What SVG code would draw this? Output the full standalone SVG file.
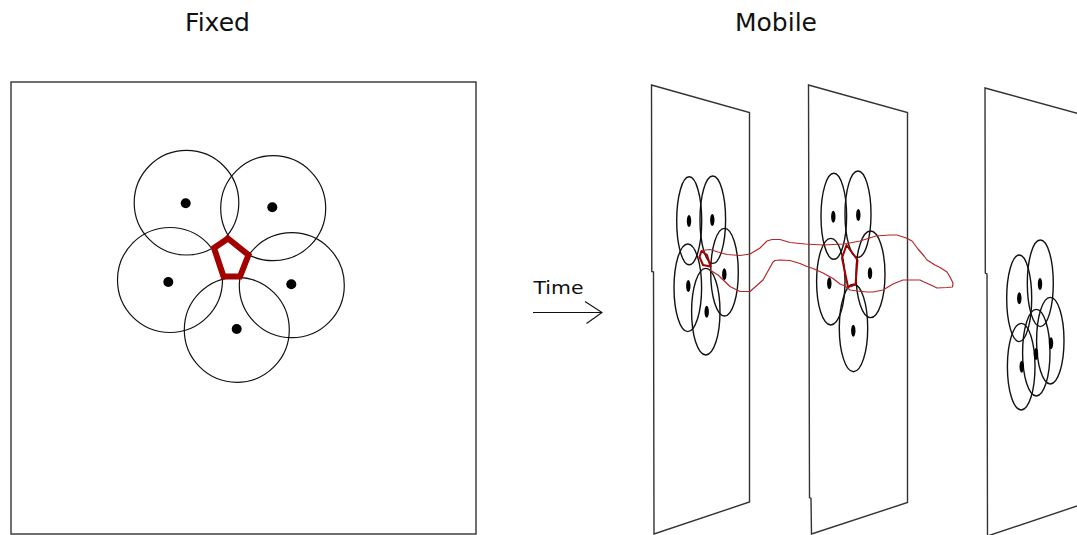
<svg xmlns="http://www.w3.org/2000/svg" width="1077" height="535" viewBox="0 0 1077 535">
<style>
.title{font-family:"DejaVu Sans",sans-serif;font-size:25px;fill:#111;text-anchor:middle}
.lbl{font-family:"DejaVu Sans",sans-serif;font-size:18px;fill:#111}
.frame{fill:none;stroke:#333;stroke-width:1.4}
.range{fill:none;stroke:#111;stroke-width:1.2}
.rng3{fill:none;stroke:#111;stroke-width:1.4}
.dot{fill:#000}
.hole{fill:none;stroke:#a30000;stroke-width:6;stroke-linejoin:miter}
.hole3{fill:none;stroke:#a30000;stroke-width:2;stroke-linejoin:round}
.traj{fill:none;stroke:#b3262a;stroke-width:1.2;stroke-linejoin:round}
.arrow{fill:none;stroke:#111;stroke-width:1.1}
</style>
<rect width="1077" height="535" fill="#fff"/>
<text class="title" x="217.5" y="31">Fixed</text>
<text class="title" x="776" y="31">Mobile</text>

<g id="fixed-panel">
<rect class="frame" x="11" y="82" width="465" height="452"/>
<g id="fixed-sensors">
<circle class="range" cx="186.5" cy="202.7" r="52.3"/>
<circle class="range" cx="273.2" cy="208.2" r="52.5"/>
<circle class="range" cx="170" cy="280" r="52.5"/>
<circle class="range" cx="291.8" cy="285.2" r="52.5"/>
<circle class="range" cx="236.8" cy="329.8" r="52.5"/>
<circle class="dot" cx="185.7" cy="203.3" r="5"/>
<circle class="dot" cx="272.3" cy="207.3" r="5"/>
<circle class="dot" cx="168.3" cy="282" r="5"/>
<circle class="dot" cx="291.3" cy="284.3" r="5"/>
<circle class="dot" cx="236.7" cy="329" r="5"/>
</g>
<polygon id="fixed-hole" class="hole" points="228,238.5 248.5,255 240,276.5 223.5,276.5 214,248"/>
</g>

<g id="time-arrow">
<text class="lbl" x="533.5" y="294" textLength="50" lengthAdjust="spacingAndGlyphs">Time</text>
<line class="arrow" x1="533" y1="312.5" x2="602" y2="312.5"/>
<polyline class="arrow" points="585,301.5 602,312.5 586.5,323.5"/>
</g>

<g id="mobile-frame-1">
<path class="frame" d="M651.5,85 L749.5,112.5 L749.5,502 L654,534 L653.5,272 L651.8,271.5 Z"/>
<ellipse class="rng3" cx="689.2" cy="220.8" rx="12.5" ry="44"/>
<ellipse class="rng3" cx="712.8" cy="219.7" rx="12.8" ry="43.7"/>
<ellipse class="rng3" cx="724.5" cy="272.2" rx="13.8" ry="43.8"/>
<ellipse class="rng3" cx="687.8" cy="287.8" rx="13.8" ry="43.8"/>
<ellipse class="rng3" cx="705.8" cy="311.7" rx="14.2" ry="43.3"/>
<ellipse class="dot" cx="689" cy="221" rx="2.2" ry="6"/>
<ellipse class="dot" cx="712.3" cy="220" rx="2.2" ry="6"/>
<ellipse class="dot" cx="724.3" cy="274.3" rx="2.2" ry="6"/>
<ellipse class="dot" cx="688.3" cy="286" rx="2.2" ry="6"/>
<ellipse class="dot" cx="706.7" cy="311.7" rx="2.2" ry="6"/>
<polygon class="hole3" points="701.5,251 707,255 710.5,266.5 703,265 699.5,257"/>
</g>

<g id="mobile-frame-2">
<path class="frame" d="M808.5,85 L907.5,112.5 L907.5,502.5 L811.5,534 L811,498.5 L809.5,497.5 Z"/>
<ellipse class="rng3" cx="833.8" cy="216.3" rx="12.8" ry="43"/>
<ellipse class="rng3" cx="858" cy="214.2" rx="13" ry="43.2"/>
<ellipse class="rng3" cx="870.5" cy="274.3" rx="14.5" ry="43.3"/>
<ellipse class="rng3" cx="830.8" cy="281.7" rx="14.2" ry="43.3"/>
<ellipse class="rng3" cx="853.5" cy="328" rx="14.2" ry="43.7"/>
<ellipse class="dot" cx="833.3" cy="216.7" rx="2.2" ry="6"/>
<ellipse class="dot" cx="858.3" cy="215" rx="2.2" ry="6"/>
<ellipse class="dot" cx="870" cy="273.3" rx="2.2" ry="6"/>
<ellipse class="dot" cx="829.3" cy="283.3" rx="2.2" ry="6"/>
<ellipse class="dot" cx="853.3" cy="330.7" rx="2.2" ry="6"/>
<polygon class="hole3" points="846.5,245 857.5,260 855.5,284.5 848,287 842,258"/>
</g>

<g id="mobile-frame-3">
<path class="frame" d="M1080,114 L985,88 L985.3,273 L987,274 L987.5,536 L1080,505"/>
<ellipse class="rng3" cx="1019.2" cy="298.3" rx="12.5" ry="43.3"/>
<ellipse class="rng3" cx="1040.3" cy="283.3" rx="13" ry="43.3"/>
<ellipse class="rng3" cx="1050.3" cy="340.7" rx="13.7" ry="43.3"/>
<ellipse class="rng3" cx="1021.2" cy="366.7" rx="13.8" ry="43.3"/>
<ellipse class="rng3" cx="1036.3" cy="352.7" rx="13.7" ry="43.3"/>
<ellipse class="dot" cx="1019.3" cy="298.3" rx="2.2" ry="6"/>
<ellipse class="dot" cx="1040" cy="284" rx="2.2" ry="6"/>
<ellipse class="dot" cx="1051" cy="343.3" rx="2.2" ry="6"/>
<ellipse class="dot" cx="1021.7" cy="366.7" rx="2.2" ry="6"/>
<ellipse class="dot" cx="1036" cy="354" rx="2.2" ry="6"/>
</g>

<g id="connectors">
<path id="hole-trajectory" class="traj" d="M702,250.5 L710,249.5 L718,252 L727,254.5 L740,255.5 L750,254 L760,248 L767,241 L772,239.5 L780,239.5 L790,242.5 L805,244 L823,245 L843,244 L847,243.5 L860,241 L876,236 L890,235 L897,235 L906,238 L912,241 L918,249 L924,256 L927,260 L935,265 L940,267.5 L947,272 L950,277 L953,283 L952.5,287 L947,287.5 L937,288 L933,286 L923,281.5 L920,280 L905,280 L903,280 L893,284 L883,290 L873,292 L867,292 L857,291 L850,290 L845,286 L840,284 L833,278.5 L823,273 L813,268.5 L807,266.5 L800,263.5 L790,260.5 L780,260 L775,260.5 L773,262 L768,271 L763,280 L750,291.5 L740,291.5 L730,286.5 L718,275 L710,270"/>
</g>
</svg>
